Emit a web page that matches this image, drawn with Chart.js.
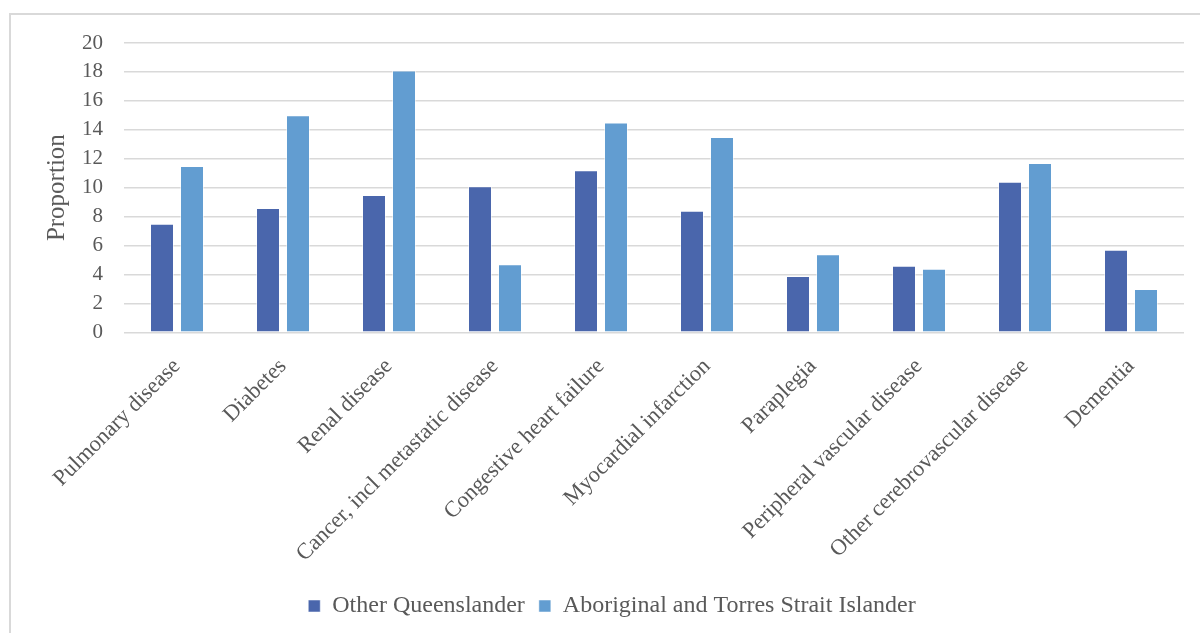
<!DOCTYPE html>
<html>
<head>
<meta charset="utf-8">
<script src="https://cdn.jsdelivr.net/npm/chart.js@4"></script>
<style>
  html, body { margin: 0; padding: 0; background: #fff; }
  #wrap { position: relative; width: 1200px; height: 633px; overflow: hidden; }
  #frame { position: absolute; left: 9px; top: 13px; width: 1300px; height: 700px;
           border-left: 2px solid #d9d9d9; border-top: 2px solid #d9d9d9; }
  canvas { position: absolute; left: 0; top: 0; }
</style>
</head>
<body>
<div id="wrap">
  <div id="frame"></div>
  <canvas id="chart" width="1200" height="633"></canvas>
</div>
<script>
// comorbidity proportions by group
const conditions = ['Pulmonary disease', 'Diabetes', 'Renal disease', 'Cancer, incl metastatic disease',
  'Congestive heart failure', 'Myocardial infarction', 'Paraplegia', 'Peripheral vascular disease',
  'Other cerebrovascular disease', 'Dementia'];
const otherQld = [7.5, 8.6, 9.5, 10.1, 11.2, 8.4, 3.9, 4.6, 10.4, 5.7];
const indigenous = [11.5, 15.0, 18.1, 4.7, 14.5, 13.5, 5.4, 4.4, 11.7, 3.0];
const seriesNames = ['Other Queenslander', 'Aboriginal and Torres Strait Islander'];
const yMin = 0, yMax = 20, yStep = 2;

const serif = "'Liberation Serif', 'Times New Roman', serif";
const grey = '#595959';

const ctx = document.getElementById('chart');

new Chart(ctx, {
  type: 'bar',
  data: {
    labels: conditions,
    datasets: [{
      label: seriesNames[0],
      data: otherQld,
      backgroundColor: '#4a66ac',
      borderColor: 'rgba(255,255,255,0.5)',
      borderWidth: 1
    }, {
      label: seriesNames[1],
      data: indigenous,
      backgroundColor: '#629dd1',
      borderColor: 'rgba(255,255,255,0.5)',
      borderWidth: 1
    }]
  },
  options: {
    responsive: false,
    animation: false,
    datasets: {
      bar: { categoryPercentage: 0.566, barPercentage: 0.8 }
    },
    layout: { padding: { left: 40, right: 16, top: 43, bottom: 5 } },
    plugins: {
      tooltip: { enabled: false },
      legend: {
        position: 'bottom',
        labels: {
          boxWidth: 12,
          boxHeight: 12,
          padding: 14,
          color: grey,
          font: { family: serif, size: 24 }
        }
      }
    },
    scales: {
      x: {
        grid: { display: false },
        border: { display: false },
        ticks: {
          color: grey,
          font: { family: serif, size: 22.5 },
          minRotation: 45,
          maxRotation: 45,
          padding: 13
        }
      },
      y: {
        min: yMin,
        max: yMax,
        grid: { color: '#d9d9d9', lineWidth: 1.5, drawTicks: false },
        border: { display: false },
        ticks: {
          stepSize: yStep,
          color: grey,
          padding: 21,
          font: { family: serif, size: 21 }
        },
        title: {
          display: true,
          text: 'Proportion',
          color: grey,
          // tight line box keeps the title close to the tick labels
          padding: { top: 13, bottom: 0 },
          font: { family: serif, size: 25, lineHeight: 0.32 }
        }
      }
    }
  }
});
</script>
</body>
</html>
